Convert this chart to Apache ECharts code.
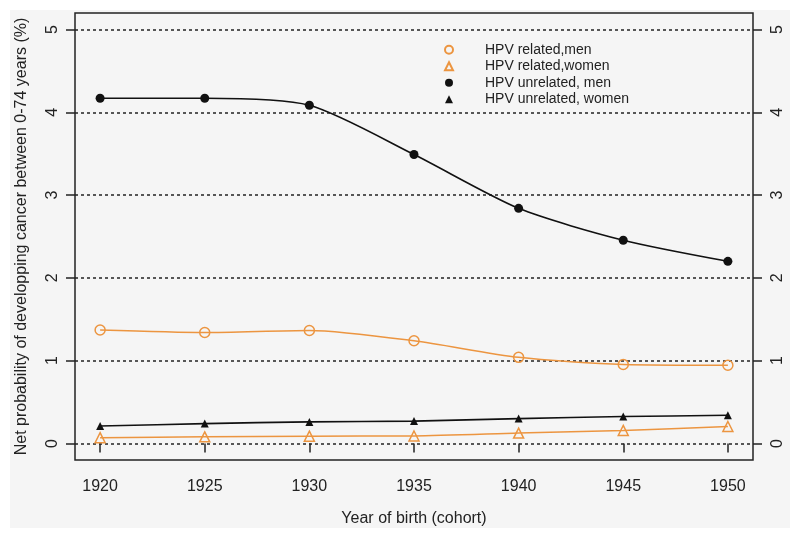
<!DOCTYPE html>
<html>
<head>
<meta charset="utf-8">
<script src="https://cdn.jsdelivr.net/npm/echarts@6/dist/echarts.min.js"></script>
<style>html,body{margin:0;padding:0;background:#fff}#c{width:800px;height:539px}</style>
</head>
<body>
<div id="c"></div>
<script>
const years = [1920, 1925, 1930, 1935, 1940, 1945, 1950];
const xTicks = [1920, 1925, 1930, 1935, 1940, 1945, 1950];
const yTicks = [0, 1, 2, 3, 4, 5];
const hpvRelatedMen = [1.37, 1.34, 1.365, 1.24, 1.04, 0.955, 0.945];
const hpvRelatedWomen = [0.07, 0.08, 0.088, 0.09, 0.125, 0.157, 0.205];
const hpvUnrelatedMen = [4.17, 4.17, 4.085, 3.49, 2.84, 2.455, 2.20];
const hpvUnrelatedWomen = [0.21, 0.24, 0.26, 0.27, 0.30, 0.325, 0.34];
const seriesNames = ['HPV related,men', 'HPV related,women', 'HPV unrelated, men', 'HPV unrelated, women'];

const ORANGE = '#EC9540';
const BLACK = '#111111';
const FONT = 'Liberation Sans';
const SMOOTH = 0.25;

function pairs(arr) { return years.map((y, i) => [y, arr[i]]); }

const chart = echarts.init(document.getElementById('c'), null, {renderer: 'canvas'});
const axisLabelY = (margin) => ({
  customValues: yTicks, rotate: 90, margin: margin, fontSize: 16, color: '#222', fontFamily: FONT,
  formatter: v => String(v)
});
chart.setOption({
  backgroundColor: '#fff',
  animation: false,
  textStyle: {fontFamily: FONT},
  graphic: [{
    type: 'rect', z: -10, silent: true,
    shape: {x: 10, y: 10, width: 780, height: 518},
    style: {fill: '#f5f5f5'}
  }],
  grid: {
    left: 75, right: 47, top: 13, bottom: 79,
    show: true, borderColor: '#222', borderWidth: 1.5, backgroundColor: 'transparent'
  },
  legend: {
    orient: 'vertical', left: 439, top: 37,
    itemWidth: 8, itemHeight: 8, itemGap: 1,
    textStyle: {fontSize: 14, color: '#222', fontFamily: FONT, padding: [0, 0, 0, 27], lineHeight: 15.5},
    data: [
      {name: seriesNames[0], icon: 'circle'},
      {name: seriesNames[1], icon: 'triangle'},
      {name: seriesNames[2], icon: 'circle'},
      {name: seriesNames[3], icon: 'triangle'}
    ]
  },
  xAxis: {
    type: 'value', min: 1918.8, max: 1951.2,
    name: 'Year of birth (cohort)', nameLocation: 'middle', nameGap: 51,
    nameTextStyle: {fontSize: 16, color: '#222', fontFamily: FONT},
    axisLine: {show: false},
    axisTick: {show: true, customValues: xTicks, length: 9, lineStyle: {color: '#222', width: 1.5}},
    axisLabel: {customValues: xTicks, margin: 19, fontSize: 16, color: '#222', fontFamily: FONT,
      formatter: v => String(v)},
    splitLine: {show: false}
  },
  yAxis: [{
    type: 'value', min: -0.2, max: 5.2, position: 'left',
    name: 'Net probability of developping cancer between 0-74 years (%)',
    nameLocation: 'middle', nameGap: 45, nameRotate: 90,
    nameTextStyle: {fontSize: 16, color: '#222', fontFamily: FONT},
    axisLine: {show: false},
    axisTick: {show: true, customValues: yTicks, length: 9, lineStyle: {color: '#222', width: 1.5}},
    axisLabel: axisLabelY(14),
    splitLine: {show: true, lineStyle: {color: '#222', width: 1.5, type: [3, 3]}}
  }, {
    type: 'value', min: -0.2, max: 5.2, position: 'right',
    axisLine: {show: false},
    axisTick: {show: true, customValues: yTicks, length: 9, lineStyle: {color: '#222', width: 1.5}},
    axisLabel: axisLabelY(17),
    splitLine: {show: false}
  }],
  series: [{
    name: seriesNames[0], type: 'line', smooth: SMOOTH, data: pairs(hpvRelatedMen),
    symbol: 'circle', symbolSize: 10,
    lineStyle: {color: ORANGE, width: 1.5},
    itemStyle: {color: 'rgba(245,245,245,0)', borderColor: ORANGE, borderWidth: 1.5}
  }, {
    name: seriesNames[1], type: 'line', smooth: SMOOTH, data: pairs(hpvRelatedWomen),
    symbol: 'triangle', symbolSize: 10,
    lineStyle: {color: ORANGE, width: 1.5},
    itemStyle: {color: 'rgba(245,245,245,0)', borderColor: ORANGE, borderWidth: 1.5}
  }, {
    name: seriesNames[2], type: 'line', smooth: SMOOTH, data: pairs(hpvUnrelatedMen),
    symbol: 'circle', symbolSize: 9,
    lineStyle: {color: BLACK, width: 1.6},
    itemStyle: {color: BLACK}
  }, {
    name: seriesNames[3], type: 'line', smooth: SMOOTH, data: pairs(hpvUnrelatedWomen),
    symbol: 'triangle', symbolSize: 8,
    lineStyle: {color: BLACK, width: 1.6},
    itemStyle: {color: BLACK}
  }]
});
</script>
</body>
</html>
